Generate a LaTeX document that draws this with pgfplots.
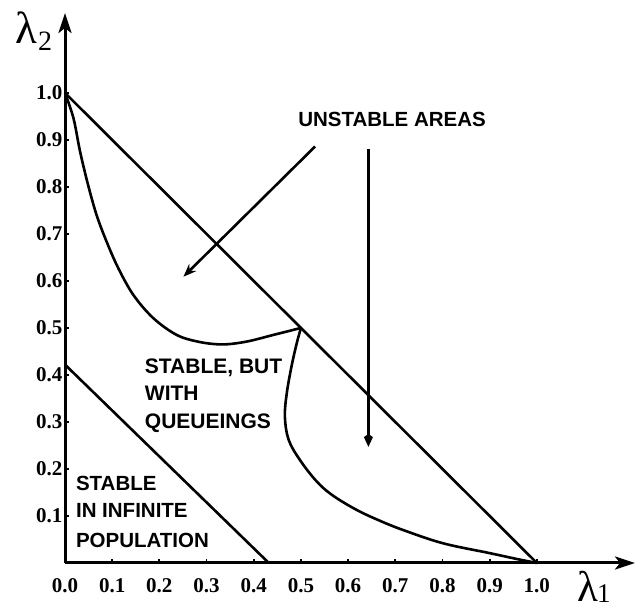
\documentclass[border=0pt]{standalone}
\usepackage{fontspec}
\setmainfont{Liberation Serif}
\newfontfamily\hel{Liberation Sans}
\usepackage{pgfplots}
\pgfplotsset{compat=1.18}
\usetikzlibrary{arrows.meta}
\begin{document}
\begin{tikzpicture}
\useasboundingbox (-65pt,-49pt) rectangle (571pt,563pt);
\begin{axis}[
  at={(0pt,0pt)}, anchor=south west,
  scale only axis, width=570pt, height=550pt,
  xmin=0, xmax=1.208, ymin=0, ymax=1.17,
  clip=false,
  axis lines=left,
  axis line style={line width=3pt, -{Stealth[length=20pt,width=13pt,inset=5pt]}},
  xtick={0,0.1,0.2,0.3,0.4,0.5,0.6,0.7,0.8,0.9,1.0},
  xticklabels={0.0,0.1,0.2,0.3,0.4,0.5,0.6,0.7,0.8,0.9,1.0},
  ytick={0.1,0.2,0.3,0.4,0.5,0.6,0.7,0.8,0.9,1.0},
  yticklabels={0.1,0.2,0.3,0.4,0.5,0.6,0.7,0.8,0.9,1.0},
  tick align=inside, major tick length=4pt,
  every tick/.style={line width=1.8pt, black},
  xticklabel style={font=\bfseries\fontsize{21}{21}\selectfont, yshift=-12pt},
  yticklabel style={font=\bfseries\fontsize{21}{21}\selectfont, xshift=1pt},
]
\addplot[line width=2.6pt] coordinates {(0,1) (1,0)};
\addplot[line width=2.6pt] coordinates {(0,0.422) (0.432,0)};
\addplot[line width=2.6pt, smooth, tension=0.55] coordinates {(0,1) (0.018,0.946) (0.032,0.875) (0.049,0.804) (0.067,0.740) (0.088,0.684) (0.113,0.627) (0.145,0.570) (0.187,0.521) (0.237,0.485) (0.286,0.470) (0.335,0.465) (0.385,0.471) (0.441,0.485) (0.5,0.5)};
\addplot[line width=2.6pt, smooth, tension=0.6] coordinates {(0.5,0.5) (0.491,0.467) (0.480,0.418) (0.470,0.361) (0.466,0.311) (0.474,0.262) (0.498,0.219) (0.533,0.174) (0.567,0.144) (0.618,0.113) (0.667,0.090) (0.717,0.070) (0.801,0.042) (0.900,0.021) (0.96,0.008) (1,0)};
\addplot[line width=2.6pt, -{Stealth[length=13pt,width=10pt]}] coordinates {(0.530,0.886) (0.251,0.609)};
\addplot[line width=2.6pt, -{Kite[length=13pt,width=9pt]}] coordinates {(0.643,0.881) (0.643,0.247)};
\node[anchor=base west, inner sep=0, font=\hel\bfseries\fontsize{20.5}{20.5}\selectfont] at (axis cs:0.494,0.928) {UNSTABLE AREAS};
\node[anchor=base west, inner sep=0, font=\hel\bfseries\fontsize{21}{21}\selectfont] at (axis cs:0.169,0.404) {STABLE, BUT};
\node[anchor=base west, inner sep=0, font=\hel\bfseries\fontsize{21}{21}\selectfont] at (axis cs:0.169,0.345) {WITH};
\node[anchor=base west, inner sep=0, font=\hel\bfseries\fontsize{21}{21}\selectfont] at (axis cs:0.169,0.287) {QUEUEINGS};
\node[anchor=base west, inner sep=0, font=\hel\bfseries\fontsize{20.5}{20.5}\selectfont] at (axis cs:0.023,0.155) {STABLE};
\node[anchor=base west, inner sep=0, font=\hel\bfseries\fontsize{20.5}{20.5}\selectfont] at (axis cs:0.023,0.096) {IN INFINITE};
\node[anchor=base west, inner sep=0, font=\hel\bfseries\fontsize{20.5}{20.5}\selectfont] at (axis cs:0.023,0.034) {POPULATION};
\node[anchor=base west, inner sep=0] at (axis cs:-0.106,1.106) {\fontsize{45}{45}\selectfont λ\kern1pt\raisebox{-7pt}{\fontsize{28}{28}\selectfont 2}};
\node[anchor=base west, inner sep=0] at (axis cs:1.085,-0.082) {\fontsize{43}{43}\selectfont λ\kern-1pt\raisebox{-1pt}{\fontsize{27}{27}\selectfont 1}};
\end{axis}
\end{tikzpicture}
\end{document}
